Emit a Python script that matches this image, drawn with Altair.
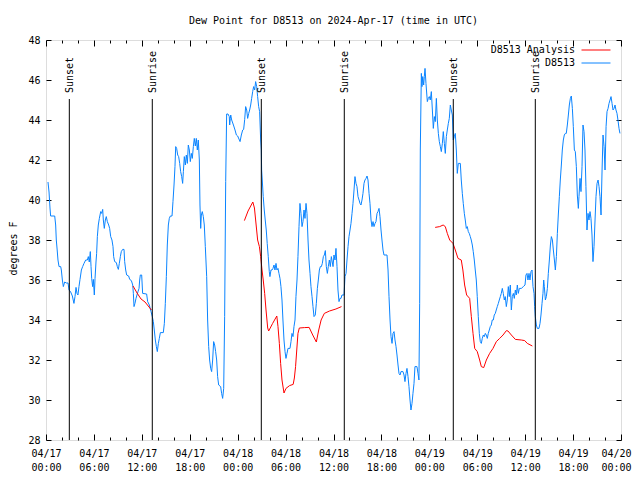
import altair as alt
import pandas as pd

# ---------------- data ----------------
# hours after 2024-04-17 00:00 UTC, dew point in degrees F
blue_h = [0.25, 0.38, 0.50, 0.58, 1.09, 1.21, 1.29, 1.40, 1.50, 1.63, 1.84, 1.92, 2.05, 2.17, 2.34, 2.55, 2.76, 2.88,
          3.09, 3.30, 3.50, 3.63, 3.76, 3.88, 4.00, 4.13, 4.26, 4.43, 4.59, 4.76, 4.97, 5.18, 5.30, 5.42, 5.55, 5.64,
          5.72, 5.84, 5.93, 6.05, 6.14, 6.26, 6.34, 6.43, 6.55, 6.68, 6.85, 6.97, 7.10, 7.18, 7.30, 7.43, 7.55, 7.68,
          7.85, 7.97, 8.10, 8.26, 8.39, 8.47, 8.60, 8.81, 8.93, 9.06, 9.18, 9.31, 9.43, 9.60, 9.77, 9.85, 9.98, 10.10,
          10.35, 10.48, 10.69, 10.86, 10.94, 11.02, 11.14, 11.27, 11.39, 11.52, 11.65, 11.73, 11.81, 11.98, 12.10,
          12.60, 12.73, 12.94, 13.15, 13.31, 13.44, 13.56, 13.69, 13.82, 13.94, 14.07, 14.19, 14.32, 14.69, 14.82,
          14.94, 15.07, 15.19, 15.32, 15.44, 15.57, 15.78, 15.90, 16.03, 16.15, 16.24, 16.36, 16.49, 16.61, 16.74,
          16.86, 16.99, 17.11, 17.20, 17.32, 17.45, 17.57, 17.70, 17.82, 17.95, 18.07, 18.20, 18.32, 18.45, 18.57,
          18.70, 18.82, 18.95, 19.07, 19.20, 19.28, 19.37, 19.45, 19.57, 19.70, 19.82, 19.95, 20.12, 20.24, 20.37,
          20.49, 20.62, 20.74, 20.87, 20.99, 21.12, 21.24, 21.37, 21.49, 21.62, 21.87, 21.99, 22.12, 22.25, 22.37,
          22.50, 22.62, 22.79, 22.95, 23.00, 23.08, 23.13, 23.25, 23.47, 23.67, 23.84, 24.00, 24.30, 24.46, 24.63,
          24.75, 24.88, 25.00, 25.13, 25.25, 25.38, 25.50, 25.63, 25.75, 25.88, 26.00, 26.13, 26.25, 26.38, 26.50,
          26.63, 26.75, 26.88, 26.96, 27.00, 27.08, 27.20, 27.33, 27.45, 27.58, 27.70, 27.83, 27.96, 28.04, 28.17,
          28.30, 28.42, 28.55, 28.67, 28.80, 28.92, 29.05, 29.17, 29.30, 29.42, 29.55, 29.67, 29.80, 29.93, 30.05,
          30.18, 30.30, 30.55, 30.68, 30.80, 30.93, 31.05, 31.18, 31.30, 31.43, 31.55, 31.68, 31.80, 31.93, 32.06,
          32.18, 32.31, 32.43, 32.56, 32.68, 32.81, 32.93, 33.06, 33.18, 33.31, 33.43, 33.56, 33.72, 33.85, 33.98,
          34.10, 34.23, 34.35, 34.48, 34.60, 34.73, 34.85, 34.98, 35.10, 35.23, 35.35, 35.48, 35.60, 35.73, 35.94,
          36.06, 36.19, 36.31, 36.44, 36.56, 36.69, 36.81, 36.94, 37.06, 37.32, 37.44, 37.57, 37.69, 37.82, 37.94,
          38.07, 38.19, 38.32, 38.44, 38.57, 38.69, 38.82, 38.94, 39.07, 39.20, 39.32, 39.44, 39.57, 39.69, 39.82,
          39.94, 40.07, 40.20, 40.32, 40.45, 40.57, 40.70, 40.82, 40.95, 41.07, 41.20, 41.32, 41.45, 41.57, 41.70,
          41.82, 41.95, 42.07, 42.20, 42.32, 42.70, 42.83, 42.95, 43.08, 43.20, 43.33, 43.45, 43.58, 43.70, 43.83,
          43.95, 44.08, 44.20, 44.33, 44.45, 44.70, 44.83, 44.95, 45.08, 45.20, 45.33, 45.45, 45.58, 45.70, 45.83,
          45.95, 46.08, 46.20, 46.45, 46.58, 46.70, 46.79, 46.87, 47.00, 47.08, 47.17, 47.29, 47.37, 47.46, 47.58,
          47.75, 47.87, 48.00, 48.12, 48.25, 48.38, 48.50, 48.63, 48.75, 48.88, 49.00, 49.13, 49.25, 49.38, 49.50,
          49.63, 49.75, 49.88, 50.00, 50.13, 50.25, 50.38, 50.50, 50.63, 50.75, 50.88, 51.00, 51.13, 51.25, 51.38,
          51.50, 51.63, 51.88, 52.00, 52.13, 52.25, 52.38, 52.50, 52.63, 52.75, 52.88, 53.00, 53.13, 53.25, 53.38,
          53.50, 53.63, 53.75, 53.88, 54.00, 54.13, 54.26, 54.38, 54.51, 54.63, 54.76, 54.88, 55.01, 55.13, 55.26,
          55.38, 55.51, 55.63, 55.76, 55.88, 56.01, 56.13, 56.26, 56.38, 56.51, 56.64, 56.76, 56.89, 57.01, 57.14,
          57.26, 57.39, 57.51, 57.64, 57.76, 57.89, 58.01, 58.14, 58.27, 58.39, 58.52, 58.64, 58.77, 58.89, 59.02,
          59.14, 59.27, 59.52, 59.77, 59.98, 60.10, 60.23, 60.35, 60.48, 60.60, 60.73, 60.86, 60.98, 61.11, 61.19,
          61.27, 61.40, 61.52, 61.73, 61.86, 61.98, 62.11, 62.23, 62.32, 62.40, 62.53, 62.65, 62.78, 62.90, 63.03,
          63.16, 63.28, 63.41, 63.53, 63.66, 63.78, 63.91, 64.03, 64.15, 64.28, 64.40, 64.53, 64.65, 64.78, 64.90,
          65.03, 65.15, 65.28, 65.41, 65.53, 65.66, 65.78, 65.91, 66.03, 66.16, 66.28, 66.41, 66.53, 66.66, 66.74,
          66.87, 66.99, 67.12, 67.24, 67.37, 67.49, 67.61, 67.74, 67.87, 67.99, 68.12, 68.24, 68.37, 68.49, 68.62,
          68.75, 68.87, 69.00, 69.13, 69.25, 69.37, 69.50, 69.63, 69.75, 69.88, 70.00, 70.13, 70.25, 70.38, 70.50,
          70.63, 70.75, 70.88, 71.00, 71.13, 71.25, 71.37, 71.50, 71.62, 71.75, 71.87]
blue_v = [40.9, 40.4, 39.6, 39.2, 39.2, 38.75, 38.0, 37.5, 37.0, 36.67, 36.67, 36.5, 36.0, 35.67, 35.9, 35.85, 35.85, 35.5,
          35.4, 35.2, 34.83, 35.17, 35.63, 35.33, 35.25, 35.67, 36.03, 36.5, 36.67, 36.83, 37.0, 37.0, 37.17, 36.9, 37.42, 36.67,
          36.08, 35.67, 36.03, 35.25, 36.08, 36.9, 37.33, 38.17, 38.75, 39.08, 39.42, 39.33, 39.53, 39.0, 38.58, 39.0, 39.17, 38.92,
          38.75, 38.58, 38.17, 38.0, 37.67, 37.17, 36.92, 36.87, 36.67, 36.53, 36.83, 37.17, 37.42, 37.53, 37.53, 36.92, 36.5, 36.25,
          36.2, 36.03, 35.97, 35.75, 35.33, 34.67, 34.83, 35.08, 35.25, 35.42, 35.58, 36.0, 36.25, 36.25, 35.33,
          35.3, 34.92, 34.75, 34.42, 34.17, 33.92, 33.5, 33.0, 32.67, 32.42, 32.83, 33.08, 33.37, 33.37, 33.83,
          34.83, 36.17, 37.75, 38.75, 39.08, 39.2, 39.2, 39.92, 40.75, 41.67, 42.67, 42.58, 42.25, 42.17, 41.83,
          41.42, 41.17, 40.83, 41.42, 42.17, 41.75, 42.25, 41.83, 42.75, 42.5, 41.92, 42.33, 42.08, 42.67, 43.08,
          42.7, 43.08, 42.5, 43.0, 42.0, 39.75, 38.58, 39.25, 39.42, 39.17, 38.75, 37.67, 36.17, 34.0, 32.67,
          32.0, 31.58, 31.42, 32.0, 32.92, 32.75, 32.42, 32.0, 31.17, 30.75, 30.67, 30.33, 30.08, 30.58, 34.17,
          40.92, 44.3, 44.3, 44.17, 43.75, 44.08, 44.25, 44.0, 43.75, 43.5, 43.25, 43.2, 42.92, 43.25, 43.5,
          43.53, 44.03, 44.67, 44.5, 44.08, 44.33, 44.5, 44.75, 45.08, 45.42, 45.67, 45.5, 45.92, 45.67, 45.17,
          44.67, 44.42, 43.0, 42.5, 41.5, 41.0, 40.17, 39.5, 39.0, 38.5, 37.83, 37.17, 36.42, 36.17, 36.5,
          36.5, 36.58, 36.75, 36.5, 36.83, 36.5, 36.58, 36.33, 36.08, 35.67, 35.0, 34.0, 33.0, 32.42, 32.08,
          32.33, 32.58, 32.58, 32.92, 33.33, 33.17, 33.67, 34.0, 35.17, 36.0, 37.17, 38.67, 39.83, 39.33, 38.67,
          38.92, 39.5, 39.08, 39.83, 39.33, 38.0, 37.0, 36.33, 35.67, 35.17, 34.67, 34.17, 34.25, 34.83, 35.58,
          36.0, 36.5, 36.67, 36.67, 36.83, 37.17, 37.25, 37.47, 36.67, 36.33, 36.67, 37.0, 36.67, 37.17, 36.67,
          37.25, 37.0, 37.58, 36.67, 35.5, 34.92, 35.08, 35.08, 35.25, 35.25, 36.17, 36.33, 37.0, 37.67, 38.17,
          38.5, 38.83, 39.33, 39.83, 40.5, 41.17, 40.83, 40.67, 40.17, 40.0, 39.83, 39.75, 40.0, 40.33, 40.83,
          41.0, 41.08, 41.2, 41.0, 40.33, 39.83, 39.0, 38.67, 38.92, 38.67, 38.83, 38.92, 39.33, 39.42, 39.58,
          39.17, 38.5, 38.0, 37.5, 37.25, 37.25, 36.5, 35.17, 34.0, 33.17, 32.83, 33.33, 33.42, 33.0, 32.67,
          32.25, 31.75, 31.33, 31.25, 31.42, 31.42, 31.25, 30.92, 31.33, 31.58, 31.17, 30.67, 30.0, 29.5, 29.83,
          30.33, 30.83, 31.67, 31.67, 31.33, 31.0, 34.83, 42.5, 46.33, 45.67, 46.17, 45.75, 46.17, 46.58, 45.83,
          44.92, 45.08, 45.17, 45.0, 45.42, 44.5, 43.58, 44.17, 43.92, 45.08, 44.0, 43.33, 42.92, 42.67, 42.42,
          42.83, 43.42, 42.83, 42.33, 43.17, 43.5, 43.83, 44.08, 44.75, 44.5, 44.25, 43.0, 43.17, 43.33, 42.5,
          41.33, 41.83, 41.83, 41.0, 40.33, 39.83, 39.33, 39.0, 38.58, 38.67, 38.42, 38.33, 38.17, 38.0, 37.75,
          37.42, 37.0, 36.5, 36.0, 35.17, 34.17, 33.33, 32.92, 32.83, 33.08, 33.25, 33.17, 33.33, 33.25, 33.08,
          33.33, 33.5, 33.67, 33.75, 34.0, 34.0, 34.25, 34.33, 34.5, 34.67, 34.83, 35.0, 35.17, 35.33, 35.58,
          35.33, 35.0, 35.17, 34.67, 35.0, 35.67, 35.17, 35.75, 34.5, 35.17, 35.33, 35.08, 35.5, 35.25, 35.75,
          35.33, 35.58, 35.58, 35.67, 35.75, 36.25, 36.33, 36.0, 36.33, 36.0, 36.42, 36.5, 35.67, 35.33, 34.67,
          34.17, 33.75, 33.58, 33.58, 33.83, 34.25, 34.83, 35.33, 36.0, 35.67, 35.0, 35.17, 35.58, 36.33, 37.0,
          37.75, 38.17, 38.0, 37.5, 37.0, 36.5, 37.17, 38.33, 39.25, 40.17, 41.0, 41.75, 42.5, 43.0, 43.25,
          43.33, 43.33, 43.75, 44.25, 44.75, 45.08, 45.2, 44.58, 43.67, 42.5, 42.42, 41.67, 40.25, 39.58, 40.17,
          41.08, 40.42, 41.67, 43.75, 43.42, 42.5, 40.67, 38.5, 39.33, 39.0, 39.42, 39.08, 38.25, 36.92, 37.67,
          39.0, 40.17, 40.83, 41.0, 40.67, 40.17, 39.25, 41.5, 43.25, 42.67, 41.5, 43.67, 44.42, 44.58, 44.83,
          45.0, 45.17, 44.83, 44.5, 44.58, 44.75, 44.5, 44.33, 44.0, 43.58, 43.33]

red1_h = [10.9, 11.4, 11.9, 12.4, 12.8, 13.2]
red1_v = [35.7, 35.35, 35.05, 34.9, 34.7, 34.5]
red2_h = [24.84, 25.3, 25.9, 26.1, 26.3, 26.5, 26.72, 26.88, 27.05, 27.2, 27.38, 27.55, 27.76, 27.88, 28.38, 28.9,
          29.05, 29.22, 29.38, 29.55, 29.8, 30.05, 30.5, 30.95, 31.1, 31.25, 31.4, 31.55, 31.72, 32.35, 32.95,
          33.4, 33.85, 34.15, 34.45, 34.85, 35.5, 36.3, 37.0]
red2_v = [38.97, 39.45, 39.9, 39.6, 38.8, 38.0, 37.67, 37.17, 36.5, 36.0, 35.33, 34.5, 33.6, 33.45, 33.83, 34.2,
          33.67, 32.83, 31.83, 31.0, 30.35, 30.58, 30.72, 30.78, 31.1, 31.67, 32.5, 33.33, 33.6, 33.62, 33.63,
          33.25, 32.9, 33.5, 34.0, 34.33, 34.45, 34.55, 34.67]
red3_h = [48.73, 49.3, 49.73, 50.0, 50.25, 50.55, 50.96, 51.25, 51.59, 52.0, 52.2, 52.42, 52.67, 53.05, 53.26,
          53.47, 53.68, 54.0, 54.3, 54.51, 54.81, 55.14, 55.55, 55.97, 56.39, 56.81, 57.23, 57.65, 57.85, 58.27,
          58.77, 59.52, 59.94, 60.27, 60.9]
red3_v = [38.63, 38.67, 38.75, 38.67, 38.33, 38.0, 37.83, 37.5, 37.08, 37.0, 36.5, 35.75, 35.25, 35.08, 34.17,
          33.33, 32.58, 32.42, 32.0, 31.67, 31.62, 32.0, 32.33, 32.58, 32.92, 33.08, 33.25, 33.47, 33.45, 33.25,
          33.03, 33.0, 32.97, 32.83, 32.7]

sun_h = [2.92, 13.31, 26.96, 37.35, 51.0, 61.27]
sun_label = ["Sunset", "Sunrise", "Sunset", "Sunrise", "Sunset", "Sunrise"]

series_names = ["D8513 Analysis", "D8513"]
series_colors = ["#ff0000", "#0a84ff"]

x_major = list(range(0, 73, 6))
x_minor = [h for h in range(0, 73, 2) if h % 6 != 0]
y_ticks = list(range(28, 49, 2))

title_text = "Dew Point for D8513 on 2024-Apr-17 (time in UTC)"
y_title = "degrees F"

# ---------------- tables ----------------
rows = [{"h": h, "v": v, "series": "D8513", "seg": "b"} for h, v in zip(blue_h, blue_v)]
for name, hs, vs in (("r1", red1_h, red1_v), ("r2", red2_h, red2_v), ("r3", red3_h, red3_v)):
    rows += [{"h": h, "v": v, "series": "D8513 Analysis", "seg": name} for h, v in zip(hs, vs)]
lines_df = pd.DataFrame(rows)
sun_df = pd.DataFrame({"h": sun_h, "label": sun_label})

FONT = "DejaVu Sans Mono"
xscale = alt.Scale(domain=[0, 72], nice=False, zero=False)
yscale = alt.Scale(domain=[28, 48], nice=False, zero=False)


def tick_axis(orient, values, size):
    return alt.Axis(orient=orient, values=values, tickSize=size, offset=-size, labels=False,
                    domain=False, grid=False, title=None, ticks=True, tickColor="black", tickWidth=1)


x_label_axis = alt.Axis(
    orient="bottom", values=x_major, ticks=False, tickSize=0, domain=False, grid=False, title=None,
    labelExpr="['04/' + (17 + floor(datum.value / 24)), (datum.value % 24 < 10 ? '0' : '') + (datum.value % 24) + ':00']",
    labelFont=FONT, labelFontSize=10, labelColor="black", labelPadding=8, labelBaseline="top",
    labelLineHeight=14, labelFlush=False, labelOverlap=False, labelBound=False, labelAlign="center",
    labelOffset={"condition": {"test": "datum.value === 72", "value": -5}, "value": 0})

y_label_axis = alt.Axis(
    orient="left", values=y_ticks, ticks=False, tickSize=0, domain=False, grid=False,
    labelFont=FONT, labelFontSize=10, labelColor="black", labelPadding=6, labelFlush=False,
    labelOverlap=False, title=y_title, titleFont=FONT, titleFontSize=10, titleFontWeight="normal",
    titleColor="black", titleX=-33, titleY=208, titleAngle=270, titleAlign="center", titleBaseline="middle")

lines = alt.Chart(lines_df).mark_line(strokeWidth=1).encode(
    x=alt.X("h:Q", scale=xscale, axis=x_label_axis),
    y=alt.Y("v:Q", scale=yscale, axis=y_label_axis),
    color=alt.Color("series:N", scale=alt.Scale(domain=series_names, range=series_colors),
                    legend=alt.Legend(title=None, orient="none", legendX=543, legendY=3,
                                      symbolType="M-2.23,0H2.23", symbolSize=169, symbolStrokeWidth=1,
                                      rowPadding=1, labelAlign="right",
                                      labelOffset={"expr": "-28"},
                                      labelFont=FONT, labelFontSize=10, labelColor="black",
                                      labelBaseline="middle", padding=0, symbolOffset=0, labelLimit=0)),
    detail="seg:N",
)

sun_rules = alt.Chart(sun_df).mark_rule(color="black", strokeWidth=1).encode(
    x=alt.X("h:Q", scale=xscale, axis=tick_axis("bottom", x_major, 6)),
    y=alt.YDatum(28, scale=yscale, axis=tick_axis("left", y_ticks, 5)),
    y2=alt.Y2Datum(45.05),
)

sun_text = alt.Chart(sun_df).mark_text(angle=270, align="left", baseline="middle", dy=1,
                                       font=FONT, fontSize=10, color="black").encode(
    x=alt.X("h:Q", scale=xscale, axis=tick_axis("bottom", x_minor, 3)),
    y=alt.YDatum(45.35, scale=yscale, axis=tick_axis("right", y_ticks, 5)),
    text="label:N",
)

top_major = alt.Chart(sun_df).mark_point(opacity=0).encode(
    x=alt.X("h:Q", scale=xscale, axis=tick_axis("top", x_major, 6)),
    y=alt.YDatum(30, scale=yscale, axis=None),
)
top_minor = alt.Chart(sun_df).mark_point(opacity=0).encode(
    x=alt.X("h:Q", scale=xscale, axis=tick_axis("top", x_minor, 3)),
    y=alt.YDatum(30, scale=yscale, axis=None),
)

chart = alt.layer(lines, sun_rules, sun_text, top_major, top_minor).resolve_scale(
    x="shared", y="shared", color="independent"
).resolve_axis(x="independent", y="independent").properties(
    width=575, height=400,
    autosize=alt.AutoSizeParams(type="none"),
    padding={"left": 38, "top": 32, "right": 11, "bottom": 32},
    title=alt.TitleParams(title_text, font=FONT, fontSize=10, fontWeight="normal", color="black",
                          anchor="middle", offset=9),
).configure_view(stroke="black", strokeWidth=1).configure(background="white")

chart.save("out.html", embed_options={"renderer": "svg", "actions": False})
